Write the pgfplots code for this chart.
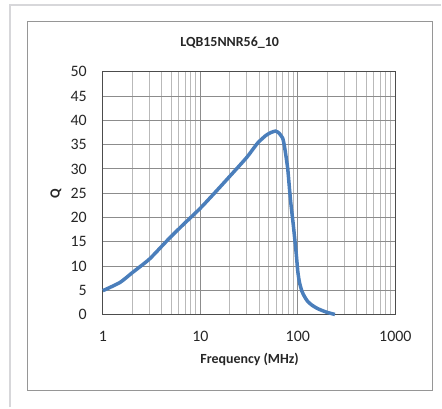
\documentclass[border=0pt]{standalone}
\usepackage{pgfplots}
\pgfplotsset{compat=1.18}
\usepackage{fontspec}
\setmainfont{Carlito}
\definecolor{qblue}{RGB}{74,126,187}
\definecolor{majgrid}{RGB}{140,140,140}
\definecolor{mingrid}{RGB}{185,185,185}
\definecolor{framegray}{RGB}{150,150,150}
\definecolor{pagegray}{RGB}{215,215,218}
\begin{document}
\begin{tikzpicture}[x=1bp,y=1bp]
\path (0,0) rectangle (442,408);
\draw[pagegray, line width=1.5bp] (10,0) -- (10,403) -- (442,403);
\draw[framegray, line width=1bp] (28,17) rectangle (433,386);
\begin{axis}[
  at={(103bp,93bp)}, anchor=south west,
  scale only axis, width=293bp, height=243bp,
  xmode=log, xmin=1, xmax=1000, ymin=0, ymax=50,
  xtick={1,10,100,1000}, xticklabels={1,10,100,1000},
  minor xtick={2,3,4,5,6,7,8,9,20,30,40,50,60,70,80,90,200,300,400,500,600,700,800,900},
  ytick={0,5,...,50},
  /pgf/number format/assume math mode=true,
  xmajorgrids, xminorgrids, ymajorgrids,
  major grid style={majgrid, line width=0.9bp},
  minor grid style={mingrid, line width=0.8bp},
  axis line style={black!70, line width=1.2bp},
  major tick length=0pt, minor tick length=0pt,
  yticklabel style={font=\fontsize{16}{18}\selectfont, inner sep=0pt, anchor=east, xshift=-16bp, text=black!85},
  xticklabel style={font=\fontsize{16}{18}\selectfont, inner sep=0pt, anchor=center, yshift=-22bp, text=black!85},
  clip=false,
]
\addplot[qblue, line width=3.5bp, smooth, tension=0.35] coordinates {
(1,4.9) (1.5,6.6) (2,8.6) (3,11.4) (4.5,15.1) (6.5,18.3) (10,21.9)
(15,25.7) (21.6,29.2) (30,32.4) (38.6,35.3) (47,36.9) (53,37.5) (59,37.8) (64,37.4)
(70,36.3) (73,34.6) (76,32.3) (79,29.8) (84,23.7) (90,18.3) (96,12.8)
(100,8.8) (104,6.6) (110,4.8) (117,3.7) (126,2.7) (140,1.9) (160,1.2) (195,0.5) (240,0)
};
\end{axis}
\node[font=\bfseries\fontsize{14}{16}\selectfont, text=black!85] at (230,365) {LQB15NNR56\_10};
\node[font=\bfseries\fontsize{14}{16}\selectfont, text=black!85] at (250,48) {Frequency (MHz)};
\node[font=\bfseries\fontsize{14}{16}\selectfont, text=black!85, rotate=90] at (56,214) {Q};
\end{tikzpicture}
\end{document}
